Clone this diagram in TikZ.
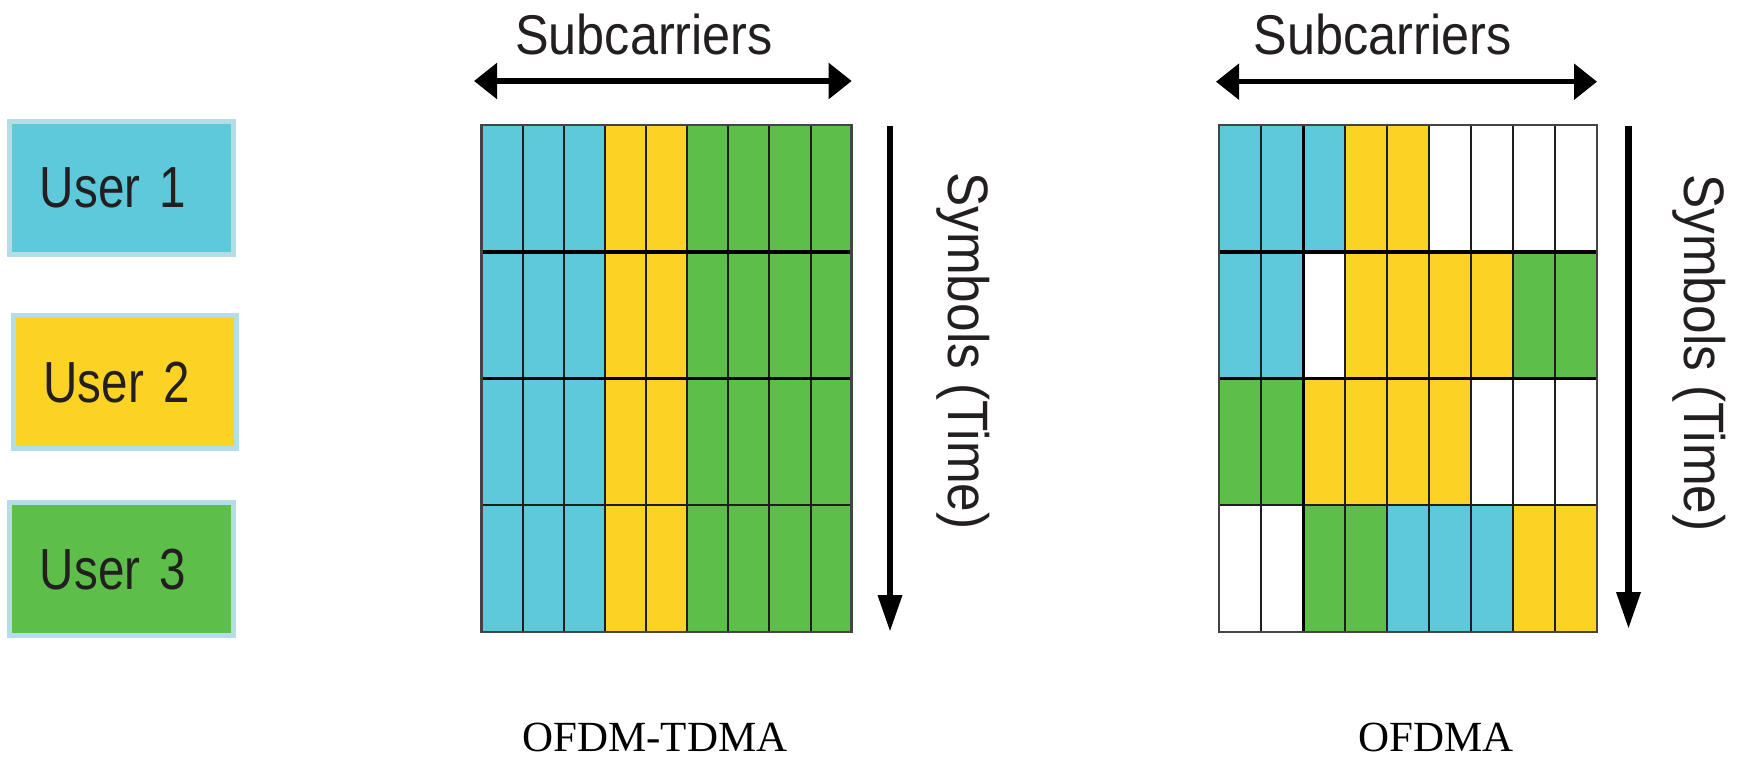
\documentclass[tikz,border=0pt]{standalone}
\usepackage{fontspec}
\setmainfont{Liberation Serif}
\newfontfamily\labfont[FakeStretch=0.9]{Liberation Sans}
\newfontfamily\userfont[FakeStretch=0.82]{Liberation Sans}
\usetikzlibrary{arrows.meta}
\definecolor{cB}{HTML}{5EC9DB}
\definecolor{cY}{HTML}{FCD322}
\definecolor{cG}{HTML}{5DBF4A}
\definecolor{cW}{HTML}{FFFFFF}
\definecolor{ubord}{HTML}{B4DEE6}
\definecolor{ink}{HTML}{231F20}
\definecolor{gridln}{HTML}{1E1E1E}
\definecolor{frameln}{HTML}{444444}
\begin{document}
\begin{tikzpicture}[x=1pt,y=-1pt,
  cellL/.style={draw=gridln, line width=2pt, minimum width=41.11pt, minimum height=126.8pt, inner sep=0pt, outer sep=0pt},
  cellR/.style={draw=gridln, line width=2pt, minimum width=42pt, minimum height=126.8pt, inner sep=0pt, outer sep=0pt},
  sepline/.style={draw=black, line width=3.5pt},
  gridframe/.style={draw=frameln, line width=2.5pt},
  userbox/.style={draw=ubord, line width=5pt, minimum height=132.7pt, inner xsep=30pt, text width=163.5pt, align=left, font=\userfont\fontsize{58}{60}\selectfont, text=ink},
  harrow/.style={line width=5.5pt, {Triangle[length=23pt,width=35pt]}-{Triangle[length=23pt,width=35pt]}},
  varrow/.style={line width=6.5pt, -{Triangle[length=37pt,width=23pt]}},
  axlabel/.style={font=\labfont\fontsize{56}{58}\selectfont, text=ink, inner sep=0pt, anchor=base},
  vlabel/.style={font=\labfont\fontsize{57}{59}\selectfont, text=ink, inner sep=0pt, anchor=base, rotate=-90},
  caption/.style={font=\fontsize{43}{45}\selectfont, text=black, inner sep=0pt, anchor=base}
]
\useasboundingbox (0,0) rectangle (1745,757);

% user legend
\node[userbox, fill=cB] (u1) at (121.7,188) {User 1};
\node[userbox, fill=cY] (u2) at (125.2,382.2) {User 2};
\node[userbox, fill=cG] (u3) at (121.7,569.2) {User 3};

% left grid (OFDM-TDMA)
\foreach \r in {1,...,4}{
  \foreach \col [count=\c] in {B,B,B,Y,Y,G,G,G,G}{
    \node[cellL, fill=c\col] (L-\r-\c) at ({481.7+(\c-0.5)*41.11},{125+(\r-0.5)*126.8}) {};
  }
}
\draw[sepline] (L-1-1.south west) -- (L-1-9.south east);
\draw[sepline] (L-2-1.south west) -- (L-2-9.south east);
\draw[gridframe] (L-1-1.north west) rectangle (L-4-9.south east);

% right grid (OFDMA)
\foreach \r/\row in {1/{B,B,B,Y,Y,W,W,W,W},2/{B,B,W,Y,Y,Y,Y,G,G},3/{G,G,Y,Y,Y,Y,W,W,W},4/{W,W,G,G,B,B,B,Y,Y}}{
  \foreach \col [count=\c] in \row {
    \node[cellR, fill=c\col] (R-\r-\c) at ({1219+(\c-0.5)*42},{125+(\r-0.5)*126.8}) {};
  }
}
\draw[sepline] (R-1-1.south west) -- (R-1-9.south east);
\draw[sepline] (R-2-1.south west) -- (R-2-9.south east);
\draw[draw=black, line width=3pt] (R-1-2.north east) -- (R-4-2.south east);
\draw[gridframe] (R-1-1.north west) rectangle (R-4-9.south east);

% axis arrows
\coordinate (LA1) at (474,81);
\coordinate (LA2) at (851.7,81);
\coordinate (RA1) at (1216,81.7);
\coordinate (RA2) at (1597,81.7);
\draw[harrow] (LA1) -- (LA2);
\draw[harrow] (RA1) -- (RA2);
\coordinate (LV1) at (890,126);
\coordinate (LV2) at (890,632);
\coordinate (RV1) at (1628.5,126);
\coordinate (RV2) at (1628.5,629);
\draw[varrow] (LV1) -- (LV2);
\draw[varrow] (RV1) -- (RV2);

% labels
\node[axlabel] (sL) at (644,55) {Subcarriers};
\node[axlabel] (sR) at (1382.5,55) {Subcarriers};
\node[vlabel] (tL) at (948.6,351) {Symbols (Time)};
\node[vlabel] (tR) at (1684.5,353) {Symbols (Time)};
\node[caption] (cL) at (655,751) {OFDM-TDMA};
\node[caption] (cR) at (1436,751) {OFDMA};
\end{tikzpicture}
\end{document}
